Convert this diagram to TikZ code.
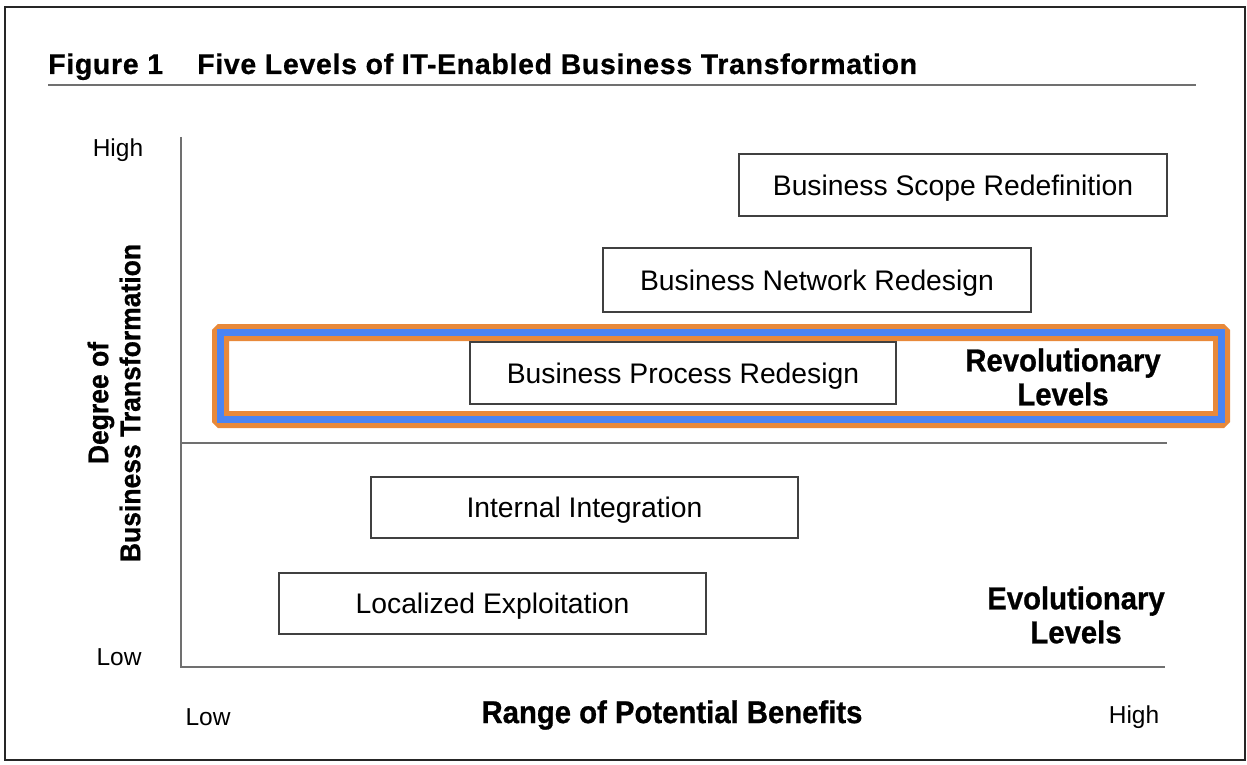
\documentclass[tikz,border=0pt]{standalone}
\usepackage{fontspec}
\setmainfont{Liberation Sans}
\newfontfamily\hvybold{Liberation Sans Bold}[FakeStretch=0.93,FakeBold=0.8]
\newfontfamily\titlefnt{Liberation Sans Bold}[FakeBold=0.6,LetterSpace=2.4]
\definecolor{hlorange}{HTML}{E8893A}
\definecolor{hlblue}{HTML}{4A84F2}
\definecolor{axisgray}{HTML}{707070}
\definecolor{boxgray}{HTML}{404040}
\begin{document}
\begin{tikzpicture}[x=1pt,y=-1pt,
  lvlbox/.style={draw=boxgray,line width=1.4pt,minimum width=#1,minimum height=62pt,inner sep=0pt,text height=20.3pt,text depth=0pt,font=\fontsize{28.3}{30}\selectfont},
  axlbl/.style={inner sep=0pt,font=\fontsize{24.5}{28}\selectfont},
  boldlbl/.style={inner sep=0pt,align=center,font=\hvybold\fontsize{31.5}{34}\selectfont},
  axline/.style={draw=axisgray,line width=1.8pt}]
\useasboundingbox (0,0) rectangle (1247,765);
\fill[white] (0,0) rectangle (1247,765);
% frame
\draw[line width=1.6pt,black!85] (5,7) rectangle (1245,760);
% title
\node[inner sep=0pt,anchor=base west,font=\titlefnt\fontsize{28.5}{32}\selectfont] (fig) at (48,74) {Figure 1};
\node[inner sep=0pt,anchor=base west,font=\titlefnt\fontsize{28.5}{32}\selectfont] (title) at (197,74) {Five Levels of IT-Enabled Business Transformation};
\coordinate (ulA) at (48,85);
\coordinate (ulB) at (1196,85);
\draw[axisgray,line width=1.3pt] (ulA) -- (ulB);
% highlight
\coordinate (hlA) at (220.5,332.5);
\coordinate (hlB) at (1221.5,419.5);
\draw[hlorange,line width=17pt,rounded corners=1pt] (hlA) rectangle (hlB);
\draw[hlblue,line width=7pt] (hlA) rectangle (hlB);
% axes
\coordinate (top) at (181,137);
\coordinate (orig) at (181,667);
\coordinate (xend) at (1165,667);
\coordinate (midA) at (181,443);
\coordinate (midB) at (1167,443);
\draw[axline] (top) -- (orig) -- (xend);
\draw[axline] (midA) -- (midB);
% boxes
\node[lvlbox=428pt] (scope) at (953,185) {Business Scope Redefinition};
\node[lvlbox=428pt,minimum height=64pt] (network) at (817,280) {Business Network Redesign};
\node[lvlbox=426pt,fill=white] (process) at (683,373) {Business Process Redesign};
\node[lvlbox=427pt,minimum height=61pt] (internal) at (584.5,507.5) {Internal Integration};
\node[lvlbox=427pt,minimum height=61pt] (local) at (492.5,603.5) {Localized Exploitation};
% labels
\node[axlbl] (yhigh) at (118,150) {High};
\node[axlbl] (ylow) at (119,657) {Low};
\node[axlbl] (xlow) at (208,717) {Low};
\node[axlbl] (xhigh) at (1134,717) {High};
\node[boldlbl] (xlab) at (672,715) {Range of Potential Benefits};
\node[boldlbl,rotate=90,font=\hvybold\fontsize{28.5}{32}\selectfont] (ylab) at (114,403) {Degree of\\Business Transformation};
\node[boldlbl] (rev) at (1063,377) {Revolutionary\\Levels};
\node[boldlbl] (evo) at (1076,615) {Evolutionary\\Levels};
\end{tikzpicture}
\end{document}
